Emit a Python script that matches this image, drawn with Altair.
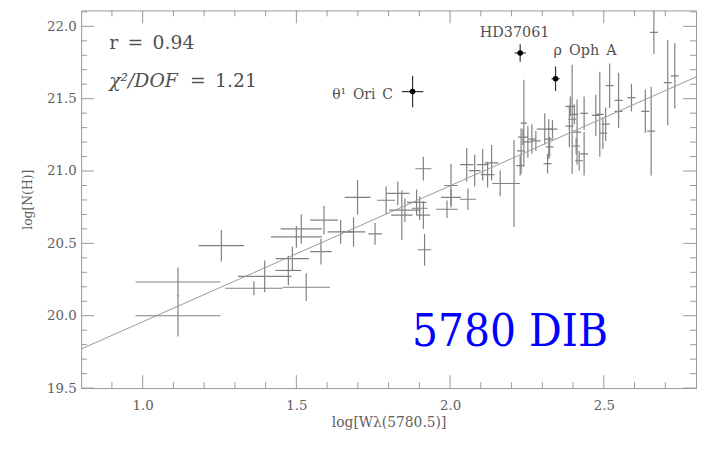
import altair as alt
import pandas as pd

# ---- data (log W, log N(H), half error bars) ----
x_vals = [1.115, 1.115, 1.256, 1.362, 1.397, 1.532, 1.474, 1.487, 1.500, 1.516,
          1.580, 1.590, 1.644, 1.686, 1.756, 1.699, 1.792, 1.830, 1.843, 1.853,
          1.891, 1.901, 1.913, 1.913, 1.917, 2.003, 2.003, 1.990, 2.058, 2.054,
          2.080, 2.106, 2.135, 2.122, 2.163, 2.208, 2.228, 2.231, 2.240, 2.253,
          2.266, 2.279, 2.237, 2.308, 2.321, 2.333, 2.324, 2.317, 2.388, 2.397,
          2.391, 2.404, 2.413, 2.420, 2.410, 2.436, 2.436, 2.474, 2.487, 2.497,
          2.506, 2.519, 2.548, 2.548, 2.590, 2.635, 2.654, 2.663, 2.708, 2.731]
y_vals = [20.233, 20.000, 20.484, 20.190, 20.272, 20.197, 20.313, 20.395, 20.545, 20.600,
          20.443, 20.661, 20.579, 20.579, 20.566, 20.818, 20.798, 20.846, 20.695, 20.730,
          20.784, 20.743, 20.695, 21.016, 20.456, 20.900, 20.818, 20.736, 20.805, 21.044,
          21.003, 21.044, 21.057, 20.975, 20.914, 20.914, 21.037, 21.139, 21.331, 21.201,
          21.221, 21.208, 21.235, 21.290, 21.221, 21.290, 21.167, 21.051, 21.310, 21.358,
          21.447, 21.392, 21.269, 21.071, 21.173, 21.399, 21.119, 21.385, 21.392, 21.262,
          21.324, 21.590, 21.488, 21.413, 21.508, 21.413, 21.276, 21.959, 21.611, 21.658]
x_err = [0.138, 0.138, 0.074, 0.093, 0.087, 0.077, 0.042, 0.054, 0.083, 0.067,
         0.035, 0.045, 0.042, 0.038, 0.022, 0.042, 0.029, 0.038, 0.035, 0.051,
         0.032, 0.026, 0.022, 0.026, 0.022, 0.022, 0.032, 0.035, 0.026, 0.022,
         0.019, 0.019, 0.022, 0.022, 0.026, 0.019, 0.013, 0.013, 0.010, 0.016,
         0.013, 0.016, 0.016, 0.026, 0.016, 0.016, 0.013, 0.013, 0.013, 0.013,
         0.016, 0.013, 0.013, 0.013, 0.013, 0.013, 0.013, 0.013, 0.013, 0.013,
         0.013, 0.013, 0.013, 0.013, 0.013, 0.013, 0.013, 0.013, 0.013, 0.013]
y_err = [0.100, 0.143, 0.109, 0.048, 0.109, 0.096, 0.102, 0.082, 0.075, 0.102,
         0.089, 0.099, 0.082, 0.102, 0.075, 0.120, 0.096, 0.082, 0.171, 0.082,
         0.089, 0.082, 0.096, 0.082, 0.109, 0.150, 0.055, 0.061, 0.075, 0.116,
         0.109, 0.109, 0.123, 0.089, 0.089, 0.300, 0.068, 0.157, 0.300, 0.109,
         0.102, 0.068, 0.055, 0.109, 0.137, 0.061, 0.068, 0.068, 0.143, 0.376,
         0.068, 0.068, 0.225, 0.068, 0.055, 0.116, 0.150, 0.143, 0.294, 0.109,
         0.116, 0.154, 0.191, 0.050, 0.096, 0.150, 0.307, 0.150, 0.294, 0.225]

# labelled outliers (non-breaking spaces keep the wide spacing of the original)
star_names = ["θ¹\u2002Ori\u2002C", "HD37061", "ρ\u2002Oph\u2002A"]
star_x = [1.878, 2.228, 2.343]
star_y = [21.549, 21.816, 21.638]
star_xerr = [0.035, 0.018, 0.013]
star_yerr = [0.109, 0.061, 0.085]

# fit line end points
fit_x = [0.80, 2.80]
fit_y = [19.77, 21.65]

# axis ticks
x_major = [1.0, 1.5, 2.0, 2.5]
x_minor = [0.9, 1.1, 1.2, 1.3, 1.4, 1.6, 1.7, 1.8, 1.9, 2.1, 2.2, 2.3, 2.4, 2.6, 2.7]
y_major = [19.5, 20.0, 20.5, 21.0, 21.5, 22.0]
y_minor = [19.6, 19.7, 19.8, 19.9, 20.1, 20.2, 20.3, 20.4, 20.6, 20.7, 20.8, 20.9,
           21.1, 21.2, 21.3, 21.4, 21.6, 21.7, 21.8, 21.9, 22.1]

W, H = 622, 382
SERIF = "DejaVu Serif"
GREY = "#808080"
TXT = "#606060"

df = pd.DataFrame({"x": x_vals, "y": y_vals, "xe": x_err, "ye": y_err})
df["x_lo"] = df.x - df.xe
df["x_hi"] = df.x + df.xe
df["y_lo"] = df.y - df.ye
df["y_hi"] = df.y + df.ye

sd = pd.DataFrame({"name": star_names, "x": star_x, "y": star_y,
                   "xe": star_xerr, "ye": star_yerr})
sd["x_lo"] = sd.x - sd.xe
sd["x_hi"] = sd.x + sd.xe
sd["y_lo"] = sd.y - sd.ye
sd["y_hi"] = sd.y + sd.ye

xs = alt.Scale(domain=[0.8, 2.8], nice=False, zero=False)
ys = alt.Scale(domain=[19.5, 22.11], nice=False, zero=False)


def xa():
    return alt.Axis(orient="bottom", values=x_major, format=".1f", ticks=False,
                    domain=False, grid=False, labelFont=SERIF, labelFontSize=13.5,
                    labelColor=TXT, labelPadding=11, title="log[Wλ(5780.5)]",
                    titleFont=SERIF, titleFontSize=14, titleFontWeight="normal",
                    titleColor=TXT, titlePadding=3)


def ya():
    return alt.Axis(orient="left", values=y_major, format=".1f", ticks=False,
                    domain=False, grid=False, labelFont=SERIF, labelFontSize=13.5,
                    labelColor=TXT, labelPadding=5, title="log[N(H)]",
                    titleFont=SERIF, titleFontSize=12.5, titleFontWeight="normal",
                    titleColor=TXT, titlePadding=12)


def X(f):
    return alt.X(f, scale=xs, axis=xa())


def Y(f):
    return alt.Y(f, scale=ys, axis=ya())


hbar = alt.Chart(df).mark_rule(color=GREY, strokeWidth=1.2, clip=True).encode(
    x=X("x_lo:Q"), x2="x_hi:Q", y=Y("y:Q"))
vbar = alt.Chart(df).mark_rule(color=GREY, strokeWidth=1.2, clip=True).encode(
    x=X("x:Q"), y=Y("y_lo:Q"), y2="y_hi:Q")

fit = alt.Chart(pd.DataFrame({"x": fit_x, "y": fit_y})).mark_line(
    color="#9a9a9a", strokeWidth=1, clip=True).encode(x=X("x:Q"), y=Y("y:Q"))

s_h = alt.Chart(sd).mark_rule(color="#333333", strokeWidth=1.2).encode(
    x=X("x_lo:Q"), x2="x_hi:Q", y=Y("y:Q"))
s_v = alt.Chart(sd).mark_rule(color="#333333", strokeWidth=1.2).encode(
    x=X("x:Q"), y=Y("y_lo:Q"), y2="y_hi:Q")
s_pt = alt.Chart(sd).mark_circle(color="black", size=32, opacity=1).encode(
    x=X("x:Q"), y=Y("y:Q"))


def tick_layer(vals, axis, length, side):
    d = pd.DataFrame({"v": vals})
    m = alt.Chart(d).mark_rule(color="#999999", strokeWidth=1)
    if axis == "x":
        if side == "bottom":
            return m.encode(x=X("v:Q"), y=alt.value(H), y2=alt.value(H - length))
        return m.encode(x=X("v:Q"), y=alt.value(0), y2=alt.value(length))
    if side == "left":
        return m.encode(y=Y("v:Q"), x=alt.value(0), x2=alt.value(length))
    return m.encode(y=Y("v:Q"), x=alt.value(W), x2=alt.value(W - length))


ticks = [tick_layer(x_major, "x", 13, "bottom"), tick_layer(x_minor, "x", 6, "bottom"),
         tick_layer(x_major, "x", 13, "top"), tick_layer(x_minor, "x", 6, "top"),
         tick_layer(y_major, "y", 13, "left"), tick_layer(y_minor, "y", 6, "left"),
         tick_layer(y_major, "y", 13, "right"), tick_layer(y_minor, "y", 6, "right")]


def label(text, x, y, size, align="left", color="#505050", style="normal", font=SERIF):
    d = pd.DataFrame({"x": [x], "y": [y], "t": [text]})
    return alt.Chart(d).mark_text(font=font, fontSize=size, align=align,
                                  baseline="alphabetic", color=color,
                                  fontStyle=style).encode(
        x=X("x:Q"), y=Y("y:Q"), text="t:N")


texts = [
    label("r\u2002=\u20020.94", 0.891, 21.843, 19),
    label("χ²/DOF", 0.891, 21.583, 19, style="italic"),
    label("=\u20021.21", 1.154, 21.583, 19),
    label(star_names[0], 1.814, 21.501, 14, align="right"),
    label(star_names[1], 2.21, 21.925, 14.5, align="center"),
    label(star_names[2], 2.336, 21.802, 14.5),
]

dib = alt.Chart(pd.DataFrame({"x": [2.195], "y": [19.889], "t": ["5780 DIB"]})).mark_text(
    font="DejaVu Serif Condensed, DejaVu Serif", fontSize=46, align="center",
    baseline="middle", color="#0000ff").encode(x=X("x:Q"), y=Y("y:Q"), text="t:N")

chart = alt.layer(hbar, vbar, fit, s_h, s_v, s_pt, *ticks, *texts, dib).properties(
    width=W, height=H,
    autosize=alt.AutoSizeParams(type="none"),
    padding={"left": 74, "top": 0, "right": 3, "bottom": 45},
    background="white",
).configure_view(stroke="#999999", strokeWidth=1)

chart.save("out.html", embed_options={"renderer": "svg", "actions": False})
